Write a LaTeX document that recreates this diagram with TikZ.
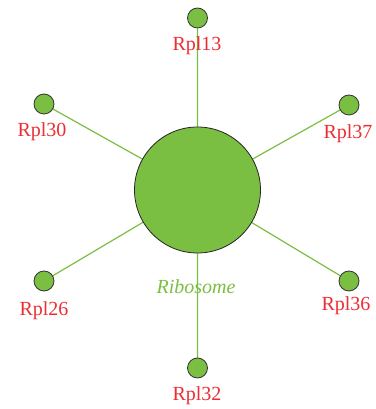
\documentclass[tikz,border=0pt]{standalone}
\usepackage{fontspec}
\setmainfont{Liberation Serif}
\definecolor{leafgreen}{RGB}{122,190,66}
\definecolor{labelred}{RGB}{237,45,50}
\begin{document}
\begin{tikzpicture}[x=1pt, y=1pt]
			\tikzstyle{hub}     = [circle, minimum size=126pt, inner sep=0pt, draw=black!85, fill=leafgreen, line width=0.8pt]
			\tikzstyle{protein} = [circle, minimum size=20pt, inner sep=0pt, draw=black!80, fill=leafgreen, line width=0.8pt]
			\tikzstyle{plabel}  = [text=labelred, font=\fontsize{20}{23}\selectfont, inner sep=0pt]
			\tikzstyle{link}    = [draw=leafgreen, line width=1.2pt]

			\useasboundingbox (0,0) rectangle (375,409);

			\coordinate (c) at (197.5,219);

			% spokes first, so the nodes sit on top
			\foreach \name/\x/\y in {13/197.6/391, 30/44/305, 37/349/304, 26/44/128, 36/349/128, 32/197.4/41}
				\path[link] (c) -- (\x,\y);

			\node[hub] (ribo) at (c) {};

			\foreach \name/\x/\y/\lx/\ly in {13/197.5/391/197/363, 30/44/305/42/277, 37/349/304/348/275, 26/44/128/44/98, 36/349/128/346/103, 32/197.5/41/197/13}
			{
				\node[protein] (rpl\name) at (\x, \y) {};
				\node[plabel] (lab\name) at (\lx, \ly) {Rpl\name};
			}

			\node[text=leafgreen, font=\fontsize{20}{23}\selectfont\itshape, inner sep=0pt] (ribolab) at (196,122) {Ribosome};

		\end{tikzpicture}
\end{document}
